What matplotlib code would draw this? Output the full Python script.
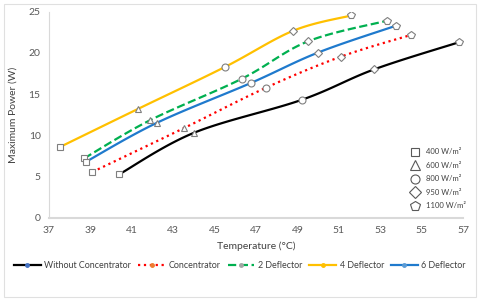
import matplotlib
matplotlib.use("Agg")
import matplotlib.pyplot as plt
from matplotlib.lines import Line2D
from matplotlib.patches import Rectangle
import numpy as np

plt.rcParams['font.family'] = ['Lato', 'DejaVu Sans']

irradiance = ["400 W/m²", "600 W/m²", "800 W/m²", "950 W/m²", "1100 W/m²"]
marker_shapes = ['s', '^', 'o', 'D', 'p']

series_names = ["Without Concentrator", "Concentrator", "2 Deflector", "4 Deflector", "6 Deflector"]

temp_without = [40.4, 44.0, 49.2, 52.7, 56.8]
power_without = [5.27, 10.3, 14.3, 18.0, 21.3]
temp_conc = [39.1, 43.5, 47.5, 51.1, 54.5]
power_conc = [5.55, 10.85, 15.8, 19.55, 22.2]
temp_def2 = [38.7, 41.9, 46.3, 49.5, 53.3]
power_def2 = [7.2, 11.85, 16.85, 21.4, 23.9]
temp_def4 = [37.55, 41.3, 45.5, 48.8, 51.6]
power_def4 = [8.6, 13.2, 18.3, 22.7, 24.55]
temp_def6 = [38.8, 42.2, 46.75, 50.0, 53.75]
power_def6 = [6.8, 11.5, 16.35, 20.05, 23.3]

temps = [temp_without, temp_conc, temp_def2, temp_def4, temp_def6]
powers = [power_without, power_conc, power_def2, power_def4, power_def6]
colors = ['black', '#FF0000', '#00B050', '#FFC000', '#1F7ACD']
styles = ['-', ':', '--', '-', '-']
legend_dots = ['#4472C4', '#ED7D31', '#A5A5A5', '#FFC000', '#5B9BD5']


def smooth(x, y, n=30):
    # Excel-style smoothed line: Catmull-Rom bezier through the points
    p = np.column_stack([x, y]).astype(float)
    ext = np.vstack([p[0], p, p[-1]])
    out = []
    t = np.linspace(0, 1, n)[:, None]
    for i in range(1, len(ext) - 2):
        p0, p1, p2, p3 = ext[i - 1], ext[i], ext[i + 1], ext[i + 2]
        c1 = p1 + (p2 - p0) / 6
        c2 = p2 - (p3 - p1) / 6
        seg = ((1 - t) ** 3) * p1 + 3 * ((1 - t) ** 2) * t * c1 + 3 * (1 - t) * t ** 2 * c2 + t ** 3 * p2
        out.append(seg)
    out = np.vstack(out)
    return out[:, 0], out[:, 1]


fig = plt.figure(figsize=(4.8, 3.01), dpi=100)
fig.patches.append(Rectangle((0.008, 0.012), 0.984, 0.976, transform=fig.transFigure,
                             fill=False, edgecolor='#E0E0E0', lw=0.8))
ax = fig.add_axes([0.102, 0.277, 0.863, 0.684])

for x, y, c, ls in zip(temps, powers, colors, styles):
    sx, sy = smooth(x, y)
    ax.plot(sx, sy, color=c, ls=ls, lw=1.6, zorder=2)

for i, m in enumerate(marker_shapes):
    xs = [t[i] for t in temps]
    ys = [p[i] for p in powers]
    ms = 5 if m != 'D' else 4.5
    if m == 'p':
        ms = 6
    ax.plot(xs, ys, ls='none', marker=m, ms=ms, mfc='white', mec='#7F7F7F', mew=0.8, zorder=3)

ax.set_xlim(37, 57)
ax.set_ylim(0, 25)
ax.set_xticks(np.arange(37, 58, 2))
ax.set_yticks(np.arange(0, 26, 5))
for s in ['top', 'right']:
    ax.spines[s].set_visible(False)
ax.spines['left'].set_color('#D9D9D9')
ax.spines['bottom'].set_color('#D9D9D9')
ax.spines['bottom'].set_linewidth(1.5)
ax.tick_params(length=0, labelsize=7.5, colors='#595959', pad=6)
ax.set_xlabel("Temperature (°C)", fontsize=7.5, color='#404040', labelpad=5)
ax.set_ylabel("Maximum Power (W)", fontsize=7.5, color='#404040', labelpad=8)

irr_sizes = [6, 6.5, 6.5, 6, 7.5]
irr_handles = [Line2D([], [], ls='none', marker=m, ms=s, mfc='white',
                      mec='#595959', mew=0.8) for m, s in zip(marker_shapes, irr_sizes)]
ax.legend(irr_handles, irradiance, loc='lower left', bbox_to_anchor=(0.86, 0.01),
          frameon=False, fontsize=5.5, labelspacing=0.85, handletextpad=0.9,
          handlelength=1.0, labelcolor='#404040', borderpad=0.3)

line_handles = [Line2D([], [], color=c, ls=ls, lw=1.6, marker='o', ms=2.5, mfc=d, mec=d)
                for c, ls, d in zip(colors, styles, legend_dots)]
fig.legend(line_handles, series_names, loc='center', bbox_to_anchor=(0.5, 0.117), ncol=5,
           frameon=False, fontsize=6.4, handlelength=3.0, handletextpad=0.4, columnspacing=0.8,
           labelcolor='#404040')

fig.savefig("out.png", dpi=100)
